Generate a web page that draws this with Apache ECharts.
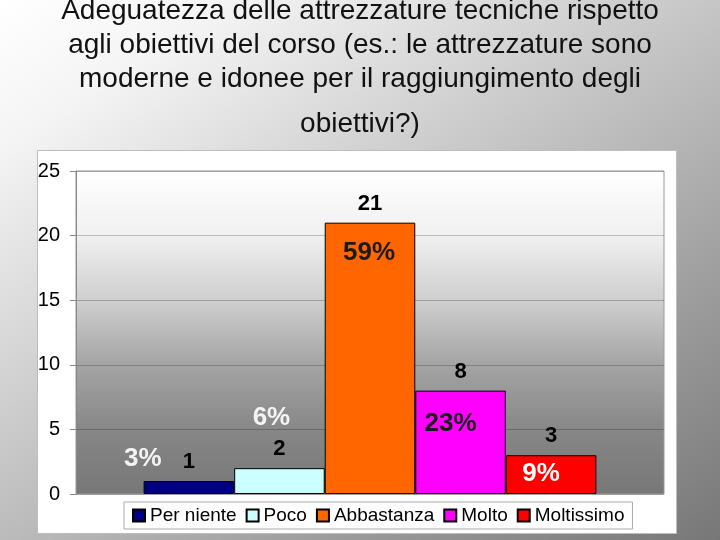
<!DOCTYPE html>
<html lang="it">
<head>
    <meta charset="UTF-8">
    <title>Adeguatezza delle attrezzature</title>
    <script src="https://cdn.jsdelivr.net/npm/echarts@6/dist/echarts.min.js"></script>
    <style>
        html, body {
            margin: 0;
            padding: 0;
        }
        body {
            width: 720px;
            height: 540px;
            background: linear-gradient(147deg, #ffffff 0%, #f4f4f4 15%, #777777 100%);
        }
        #chart {
            width: 720px;
            height: 540px;
        }
    </style>
</head>
<body>
    <div id="chart"></div>
    <script>
        // data
        const seriesNames = ['Per niente', 'Poco', 'Abbastanza', 'Molto', 'Moltissimo'];
        const counts = [1, 2, 21, 8, 3];
        const percentLabels = ['3%', '6%', '59%', '23%', '9%'];
        const yTicks = [0, 5, 10, 15, 20, 25];

        // styling
        const barColors = ['#000080', '#ccffff', '#ff6600', '#ff00ff', '#ff0000'];
        const percentColors = ['#f4f4f4', '#f4f4f4', '#1a1a1a', '#1a1a1a', '#ffffff'];
        const percentOffsets = [[-46, -22], [-8, -50], [-1, 30], [-10, 33], [-10, 19]];

        const font = 'Liberation Sans, Arial, sans-serif';

        const chart = echarts.init(document.getElementById('chart'));

        const series = seriesNames.map((name, i) => ({
            name: name,
            type: 'bar',
            data: [counts[i]],
            barGap: '0%',
            barCategoryGap: '23%',
            itemStyle: {
                color: barColors[i],
                borderColor: '#000',
                borderWidth: 1
            },
            label: {
                show: true,
                position: 'top',
                distance: 8,
                fontFamily: font,
                fontSize: 22,
                fontWeight: 'bold',
                color: '#000'
            },
            markPoint: {
                symbol: 'circle',
                symbolSize: 0,
                silent: true,
                data: [{ coord: [0, counts[i]], value: percentLabels[i] }],
                label: {
                    show: true,
                    position: 'inside',
                    formatter: percentLabels[i],
                    offset: percentOffsets[i],
                    fontFamily: font,
                    fontSize: 26,
                    fontWeight: 'bold',
                    color: percentColors[i]
                }
            }
        }));

        const option = {
            animation: false,
            backgroundColor: 'transparent',
            title: [{
                text: 'Adeguatezza delle attrezzature tecniche rispetto\nagli obiettivi del corso (es.: le attrezzature sono\nmoderne e idonee per il raggiungimento degli',
                left: 360,
                top: -6,
                padding: 0,
                textAlign: 'center',
                textStyle: {
                    fontFamily: font,
                    fontSize: 28,
                    fontWeight: 'normal',
                    lineHeight: 34,
                    color: '#111'
                }
            }, {
                text: 'obiettivi?)',
                left: 360,
                top: 107,
                padding: 0,
                textAlign: 'center',
                textStyle: {
                    fontFamily: font,
                    fontSize: 28,
                    fontWeight: 'normal',
                    lineHeight: 34,
                    color: '#111'
                }
            }],
            graphic: [{
                type: 'rect',
                z: -10,
                shape: { x: 37.5, y: 150.5, width: 639, height: 383 },
                style: { fill: '#ffffff', stroke: '#bdbdbd', lineWidth: 1 }
            }],
            legend: {
                data: seriesNames,
                left: 124,
                top: 502,
                padding: [4, 8],
                itemGap: 9,
                itemWidth: 12,
                itemHeight: 12,
                icon: 'rect',
                backgroundColor: '#ffffff',
                borderColor: '#aaaaaa',
                borderWidth: 1,
                textStyle: {
                    fontFamily: font,
                    fontSize: 19,
                    color: '#000'
                }
            },
            grid: {
                left: 76,
                right: 56,
                top: 171,
                bottom: 46,
                show: true,
                borderColor: '#9a9a9a',
                borderWidth: 1,
                backgroundColor: new echarts.graphic.LinearGradient(0, 0, 0, 1, [
                    { offset: 0, color: '#ffffff' },
                    { offset: 0.2, color: '#f0f0f0' },
                    { offset: 0.4, color: '#cfcfcf' },
                    { offset: 0.6, color: '#a4a4a4' },
                    { offset: 0.8, color: '#878787' },
                    { offset: 1, color: '#777777' }
                ])
            },
            xAxis: {
                type: 'category',
                data: [''],
                axisLine: { show: false },
                axisTick: { show: false },
                axisLabel: { show: false }
            },
            yAxis: {
                type: 'value',
                min: yTicks[0],
                max: yTicks[yTicks.length - 1],
                interval: yTicks[1] - yTicks[0],
                axisLine: { show: true, lineStyle: { color: '#888', width: 1 } },
                axisTick: { show: true, length: 6, lineStyle: { color: '#888' } },
                axisLabel: {
                    margin: 16,
                    fontFamily: font,
                    fontSize: 20,
                    color: '#000'
                },
                splitLine: { show: true, lineStyle: { color: 'rgba(0,0,0,0.22)', width: 1 } }
            },
            series: series
        };

        chart.setOption(option);
    </script>
</body>
</html>
